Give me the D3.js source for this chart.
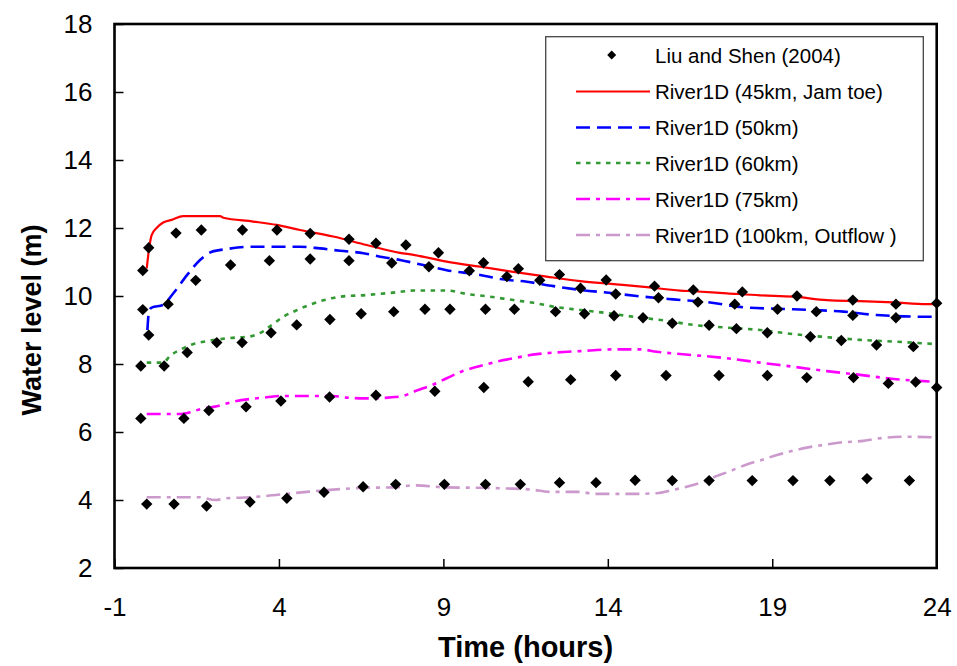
<!DOCTYPE html>
<html><head><meta charset="utf-8">
<script src="https://cdn.jsdelivr.net/npm/d3@7"></script>
<style>body{margin:0;background:#fff}svg{display:block}text{font-family:"Liberation Sans",Arial,sans-serif}</style>
</head><body><svg id="c" width="957" height="666"></svg>
<script>
// ---- data ----
const xTicks = [-1, 4, 9, 14, 19, 24];
const yTicks = [2, 4, 6, 8, 10, 12, 14, 16, 18];
const seriesNames = ["Liu and Shen (2004)", "River1D (45km, Jam toe)", "River1D (50km)", "River1D (60km)", "River1D (75km)", "River1D (100km, Outflow )"];

// River1D simulated lines: [time(h), water level(m)]
const line45 = [[-0.02,10.81],[0.06,11.45],[0.13,11.79],[0.28,12.0],[0.48,12.16],[0.74,12.24],[1.09,12.35],[2.21,12.35],[2.31,12.3],[3.22,12.19],[3.93,12.09],[4.64,11.94],[5.65,11.75],[6.67,11.5],[7.68,11.27],[8.09,11.21],[9.10,11.01],[10.12,10.86],[11.13,10.71],[12.14,10.57],[13.16,10.44],[14.17,10.35],[15.19,10.26],[16.20,10.16],[16.6,10.14],[17.62,10.08],[18.63,10.02],[19.64,9.98],[20.66,9.88],[21.67,9.85],[22.69,9.81],[23.70,9.76],[24.0,9.76]];
const line50 = [[0.0,9.0],[0.05,9.55],[0.13,9.66],[0.48,9.74],[0.79,10.08],[1.21,10.62],[1.60,11.06],[1.96,11.3],[2.41,11.38],[3.12,11.45],[4.64,11.45],[5.25,11.4],[5.86,11.33],[6.57,11.26],[7.18,11.14],[7.68,11.06],[8.39,10.91],[9.10,10.76],[10.12,10.62],[10.73,10.5],[11.54,10.42],[12.35,10.29],[13.16,10.18],[14.17,10.08],[14.88,10.0],[15.99,9.9],[17.11,9.81],[18.12,9.67],[19.64,9.61],[21.17,9.54],[22.18,9.44],[23.70,9.39],[23.85,9.39]];
const line60 = [[-0.02,8.04],[0.48,8.04],[0.69,8.24],[1.04,8.44],[1.40,8.59],[1.75,8.66],[2.46,8.76],[3.17,8.82],[3.53,8.97],[3.80,9.16],[4.13,9.39],[4.49,9.56],[4.85,9.71],[5.45,9.9],[5.86,9.98],[6.67,10.03],[7.58,10.11],[8.09,10.16],[9.10,10.16],[9.71,10.06],[10.42,9.98],[11.13,9.88],[11.74,9.8],[12.45,9.67],[13.16,9.59],[13.87,9.51],[14.78,9.39],[15.79,9.27],[16.60,9.15],[17.62,9.07],[18.63,9.0],[19.64,8.88],[20.66,8.79],[21.67,8.71],[22.69,8.66],[23.90,8.59]];
const line75 = [[-0.02,6.53],[0.99,6.53],[1.30,6.58],[1.60,6.67],[2.11,6.76],[2.61,6.89],[3.12,6.97],[3.63,7.02],[4.03,7.06],[5.65,7.06],[6.06,7.01],[6.67,6.99],[7.68,7.04],[8.19,7.22],[8.70,7.4],[9.10,7.58],[9.61,7.8],[10.12,7.94],[10.62,8.07],[11.13,8.17],[11.84,8.29],[12.45,8.34],[13.16,8.38],[14.17,8.43],[14.98,8.43],[15.49,8.36],[15.99,8.31],[16.60,8.26],[17.62,8.17],[18.63,8.04],[19.64,7.92],[20.66,7.79],[21.67,7.68],[22.69,7.56],[23.90,7.48]];
const line100 = [[-0.02,4.08],[1.60,4.08],[2.06,4.0],[2.41,4.05],[3.12,4.08],[3.63,4.12],[4.24,4.18],[4.85,4.24],[5.45,4.29],[6.67,4.36],[7.48,4.37],[8.09,4.43],[9.10,4.37],[10.12,4.36],[10.93,4.34],[11.64,4.31],[12.25,4.24],[13.16,4.24],[13.56,4.18],[14.78,4.18],[15.49,4.2],[15.95,4.29],[16.40,4.39],[16.91,4.54],[17.32,4.71],[17.67,4.83],[17.97,4.95],[18.33,5.08],[18.68,5.18],[19.14,5.32],[19.64,5.45],[20.05,5.54],[20.56,5.62],[21.06,5.69],[21.77,5.74],[22.08,5.79],[23.09,5.86],[24.0,5.84]];

// Liu and Shen (2004) observed points: [time(h), water level(m)]
const obs45 = [[-0.14,10.75],[0.04,11.42],[0.87,11.85],[1.64,11.94],[2.89,11.94],[3.94,11.94],[4.95,11.84],[6.13,11.67],[6.95,11.55],[7.86,11.5],[8.85,11.27],[10.22,10.98],[11.28,10.8],[12.53,10.63],[13.95,10.47],[15.42,10.29],[16.6,10.18],[18.09,10.12],[19.75,10.0],[21.45,9.88],[22.76,9.76],[24.0,9.79]];
const obs50 = [[-0.14,9.6],[0.04,8.85],[0.63,9.76],[1.47,10.46],[2.53,10.91],[3.71,11.04],[4.95,11.09],[6.13,11.04],[7.43,10.97],[8.56,10.86],[9.79,10.74],[10.93,10.57],[11.93,10.46],[13.17,10.23],[14.24,10.06],[15.54,9.95],[16.74,9.82],[17.86,9.76],[19.16,9.61],[20.34,9.54],[21.45,9.43],[22.76,9.36]];
const obs60 = [[-0.2,7.94],[0.51,7.94],[1.21,8.34],[2.11,8.63],[2.88,8.63],[3.76,8.92],[4.54,9.15],[5.55,9.31],[6.50,9.48],[7.49,9.54],[8.44,9.61],[9.20,9.61],[10.28,9.61],[11.16,9.61],[12.41,9.54],[13.29,9.48],[14.19,9.42],[15.07,9.36],[15.96,9.2],[17.08,9.14],[17.91,9.04],[18.85,8.92],[20.16,8.8],[21.10,8.69],[22.17,8.56],[23.29,8.51]];
const obs75 = [[-0.2,6.4],[1.11,6.4],[1.87,6.63],[3.0,6.74],[4.06,6.91],[5.54,7.03],[6.95,7.08],[8.74,7.2],[10.23,7.31],[11.58,7.48],[12.87,7.54],[14.24,7.66],[15.77,7.66],[17.38,7.66],[18.85,7.66],[20.05,7.6],[21.47,7.6],[22.53,7.43],[23.36,7.47],[24.0,7.31]];
const obs100 = [[-0.02,3.88],[0.81,3.88],[1.80,3.82],[3.12,3.94],[4.24,4.05],[5.37,4.23],[6.56,4.39],[7.55,4.46],[9.03,4.46],[10.28,4.46],[11.34,4.46],[12.53,4.51],[13.64,4.51],[14.83,4.58],[15.96,4.57],[17.08,4.57],[18.39,4.57],[19.63,4.57],[20.75,4.57],[21.88,4.63],[23.17,4.57]];

// ---- chart ----
const svg = d3.select("#c");
const L = 114.5, R = 936.7, T = 24, B = 568;
const x = d3.scaleLinear().domain([-1, 24]).range([L, R]);
const y = d3.scaleLinear().domain([2, 18]).range([B, T]);

const lines = [
  {data: line45, color: "#ff0000", dash: null, w: 2.2},
  {data: line50, color: "#0000ff", dash: "14,7", w: 2.6},
  {data: line60, color: "#339933", dash: "4.5,5.5", w: 2.6},
  {data: line75, color: "#ff00ff", dash: "14,6,4,6", w: 2.6},
  {data: line100, color: "#cc99cc", dash: "14,6,4,6", w: 2.6}
];
const lineGen = d3.line().x(d => x(d[0])).y(d => y(d[1])).curve(d3.curveMonotoneX);
lines.forEach(s => {
  svg.append("path").attr("d", lineGen(s.data)).attr("fill", "none")
    .attr("stroke", s.color).attr("stroke-width", s.w)
    .attr("stroke-dasharray", s.dash);
});

const diamond = r => `M0,${-r}L${r},0L0,${r}L${-r},0Z`;
[obs45, obs50, obs60, obs75, obs100].forEach(arr => {
  svg.append("g").selectAll("path").data(arr).join("path")
    .attr("d", diamond(5.7))
    .attr("transform", d => `translate(${x(d[0])},${y(d[1])})`)
    .attr("fill", "#000");
});

// frame
svg.append("rect").attr("x", L).attr("y", T).attr("width", R - L).attr("height", B - T)
  .attr("fill", "none").attr("stroke", "#000").attr("stroke-width", 2.6);

// axes (ticks inward)
const fmt = d => String(d);
const xAxis = d3.axisBottom(x).tickValues(xTicks).tickSize(-9).tickPadding(30).tickFormat(fmt);
const gx = svg.append("g").attr("transform", `translate(0,${B})`).call(xAxis);
gx.select(".domain").remove();
gx.selectAll("line").attr("stroke-width", 1.5);
gx.selectAll("text").attr("font-size", 26).attr("fill", "#000")
  .attr("font-family", "'Liberation Sans', Arial, sans-serif");

const yAxis = d3.axisLeft(y).tickValues(yTicks).tickSize(-9).tickPadding(22).tickFormat(fmt);
const gy = svg.append("g").attr("transform", `translate(${L},0)`).call(yAxis);
gy.select(".domain").remove();
gy.selectAll("line").attr("stroke-width", 1.5);
gy.selectAll("text").attr("font-size", 26).attr("fill", "#000")
  .attr("font-family", "'Liberation Sans', Arial, sans-serif");

// titles
svg.append("text").attr("x", (L + R) / 2).attr("y", 657).attr("text-anchor", "middle")
  .attr("font-size", 29).attr("font-weight", "bold").text("Time (hours)");
svg.append("text").attr("transform", "translate(41,320) rotate(-90)").attr("text-anchor", "middle")
  .attr("font-size", 27).attr("font-weight", "bold").text("Water level (m)");

// legend
const lg = svg.append("g");
lg.append("rect").attr("x", 545.7).attr("y", 36.7).attr("width", 923.3 - 545.7).attr("height", 260.7 - 36.7)
  .attr("fill", "#fff").attr("stroke", "#444").attr("stroke-width", 1.3);
const rowY = [55, 91.5, 127.5, 163, 199, 235];
seriesNames.forEach((name, i) => {
  const yy = rowY[i];
  if (i === 0) {
    lg.append("path").attr("d", diamond(4.5)).attr("transform", `translate(611.7,${yy})`).attr("fill", "#000");
  } else {
    const s = lines[i - 1];
    lg.append("line").attr("x1", 576).attr("x2", 650).attr("y1", yy).attr("y2", yy)
      .attr("stroke", s.color).attr("stroke-width", s.w).attr("stroke-dasharray", s.dash);
  }
  lg.append("text").attr("x", 655).attr("y", yy + 7.5).attr("font-size", 20.5).attr("fill", "#000").text(name);
});
</script></body></html>
